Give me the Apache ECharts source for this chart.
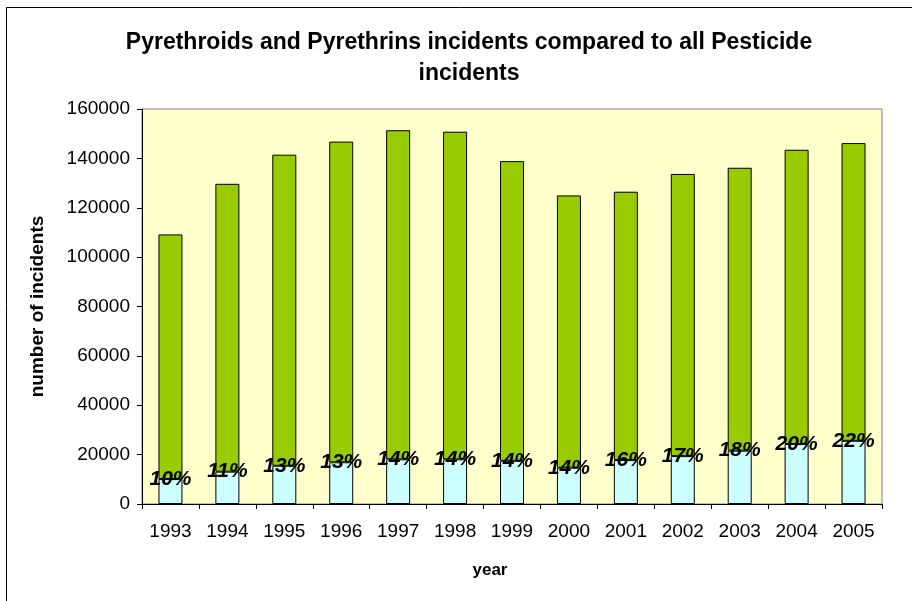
<!DOCTYPE html>
<html>
<head>
<meta charset="utf-8">
<script src="https://cdn.jsdelivr.net/npm/echarts@6/dist/echarts.min.js"></script>
<style>
html,body{margin:0;padding:0;background:#fff;}
#chart{width:912px;height:601px;}
</style>
</head>
<body>
<div id="chart"></div>
<script>
var years = ['1993','1994','1995','1996','1997','1998','1999','2000','2001','2002','2003','2004','2005'];
var pyrethroidIncidents = [10100, 13100, 15500, 16900, 18100, 18100, 17500, 14700, 17800, 19400, 21600, 24300, 25600];
var otherPesticideIncidents = [99100, 116600, 126000, 129900, 133300, 132700, 121400, 110300, 108700, 114300, 114600, 119200, 120600];
var percentLabels = ['10%','11%','13%','13%','14%','14%','14%','14%','16%','17%','18%','20%','22%'];
var yTicks = [0, 20000, 40000, 60000, 80000, 100000, 120000, 140000, 160000];

var chart = echarts.init(document.getElementById('chart'), null, {renderer: 'canvas'});
var FONT = 'Liberation Sans, Arial, sans-serif';
var option = {
  animation: false,
  backgroundColor: '#ffffff',
  textStyle: {fontFamily: FONT},
  title: {
    text: 'Pyrethroids and Pyrethrins incidents compared to all Pesticide\nincidents',
    left: 464,
    textAlign: 'center',
    top: 22,
    textStyle: {fontFamily: FONT, fontSize: 23, fontWeight: 'bold', color: '#000', lineHeight: 31}
  },
  graphic: [{
    type: 'rect',
    shape: {x: 6.5, y: 7.5, width: 1000, height: 1000},
    style: {fill: 'none', stroke: '#000', lineWidth: 1},
    silent: true
  }],
  grid: {
    left: 142, right: 30, top: 109, bottom: 97,
    show: true, backgroundColor: '#FFFFCC', borderColor: '#808080', borderWidth: 1
  },
  xAxis: {
    type: 'category',
    data: years,
    name: 'year',
    nameLocation: 'middle',
    nameGap: 58,
    nameTextStyle: {fontFamily: FONT, fontSize: 17, fontWeight: 'bold', color: '#000', padding: [0, 44, 0, 0]},
    axisLine: {show: true, lineStyle: {color: '#000', width: 1}},
    axisTick: {show: true, length: 5, lineStyle: {color: '#000'}},
    axisLabel: {fontFamily: FONT, fontSize: 19, color: '#000', margin: 18}
  },
  yAxis: {
    type: 'value',
    min: yTicks[0],
    max: yTicks[yTicks.length - 1],
    interval: yTicks[1] - yTicks[0],
    name: 'number of incidents',
    nameLocation: 'middle',
    nameGap: 95,
    nameTextStyle: {fontFamily: FONT, fontSize: 19, fontWeight: 'bold', color: '#000'},
    axisLine: {show: true, lineStyle: {color: '#000', width: 1}},
    axisTick: {show: true, length: 5, lineStyle: {color: '#000'}},
    splitLine: {show: false},
    axisLabel: {fontFamily: FONT, fontSize: 19, color: '#000', margin: 12, formatter: function (v) { return String(v); }}
  },
  series: [{
    name: 'Pyrethroids and Pyrethrins',
    type: 'bar',
    stack: 'all',
    z: 3,
    barWidth: 24,
    data: pyrethroidIncidents,
    itemStyle: {color: '#CCFFFF', borderColor: '#000', borderWidth: 1},
    label: {
      show: true,
      position: ['50%', 0],
      align: 'center',
      verticalAlign: 'middle',
      fontFamily: FONT,
      fontSize: 21,
      fontWeight: 'bold',
      fontStyle: 'italic',
      color: '#000',
      formatter: function (p) { return percentLabels[p.dataIndex]; }
    }
  }, {
    name: 'All other pesticides',
    type: 'bar',
    stack: 'all',
    z: 2,
    barWidth: 24,
    data: otherPesticideIncidents,
    itemStyle: {color: '#99CC00', borderColor: '#000', borderWidth: 1}
  }]
};
chart.setOption(option);
</script>
</body>
</html>
